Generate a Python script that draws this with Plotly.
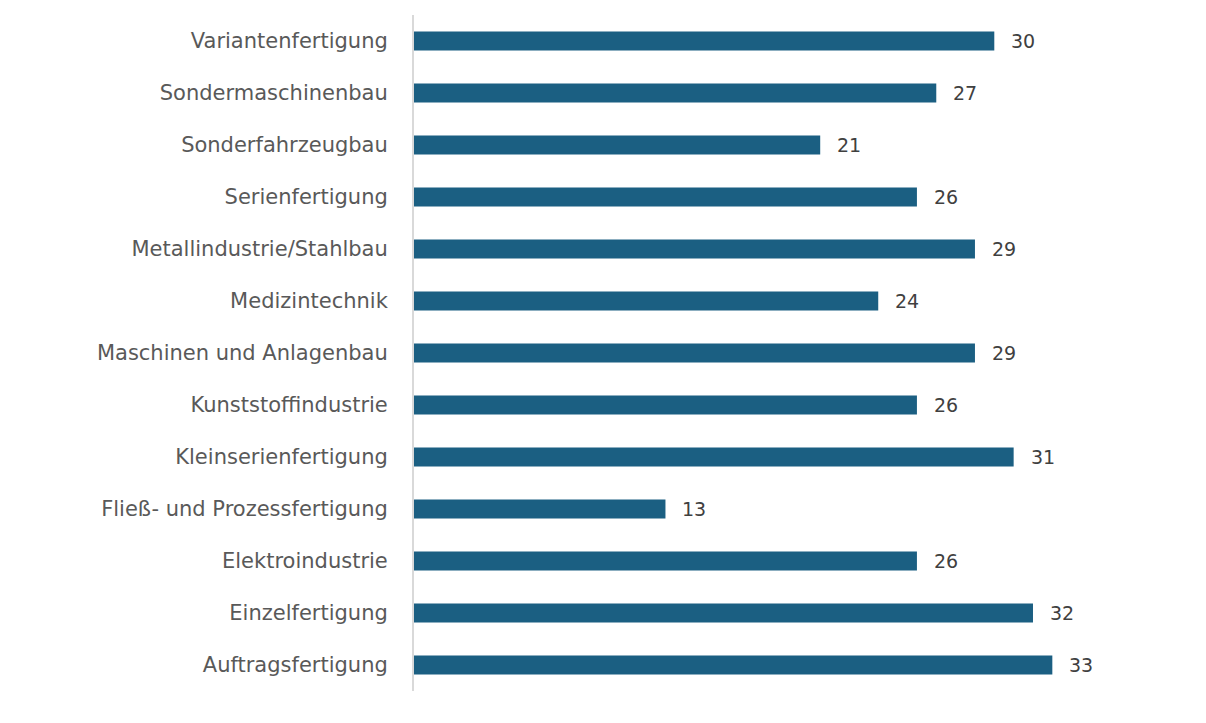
import plotly.graph_objects as go

categories = [
    "Auftragsfertigung",
    "Einzelfertigung",
    "Elektroindustrie",
    "Fließ- und Prozessfertigung",
    "Kleinserienfertigung",
    "Kunststoffindustrie",
    "Maschinen und Anlagenbau",
    "Medizintechnik",
    "Metallindustrie/Stahlbau",
    "Serienfertigung",
    "Sonderfahrzeugbau",
    "Sondermaschinenbau",
    "Variantenfertigung",
]
values = [33, 32, 26, 13, 31, 26, 29, 24, 29, 26, 21, 27, 30]

BAR_COLOR = "#1b5f82"
FONT = "DejaVu Sans"

fig = go.Figure(
    go.Bar(
        x=values,
        y=categories,
        orientation="h",
        marker=dict(color=BAR_COLOR, line=dict(width=0)),
        hoverinfo="skip",
    )
)

for c, v in zip(categories, values):
    fig.add_annotation(
        x=v, y=c, text=str(v), showarrow=False,
        xanchor="left", yanchor="middle", xshift=15,
        font=dict(family=FONT, size=19, color="#404040"),
    )

fig.update_layout(
    width=1206, height=723,
    margin=dict(l=406, r=34, t=7, b=40),
    paper_bgcolor="white", plot_bgcolor="white",
    bargap=0.635,
    showlegend=False,
    xaxis=dict(range=[0, 39.6], visible=False, showgrid=False, zeroline=False),
    yaxis=dict(
        showline=True, linecolor="#d9d9d9", linewidth=2,
        showgrid=False, zeroline=False, ticks="",
        ticklabelstandoff=20,
        tickfont=dict(family=FONT, size=21, color="#595959"),
        categoryorder="array", categoryarray=categories,
    ),
)

fig.write_html("out.html")
